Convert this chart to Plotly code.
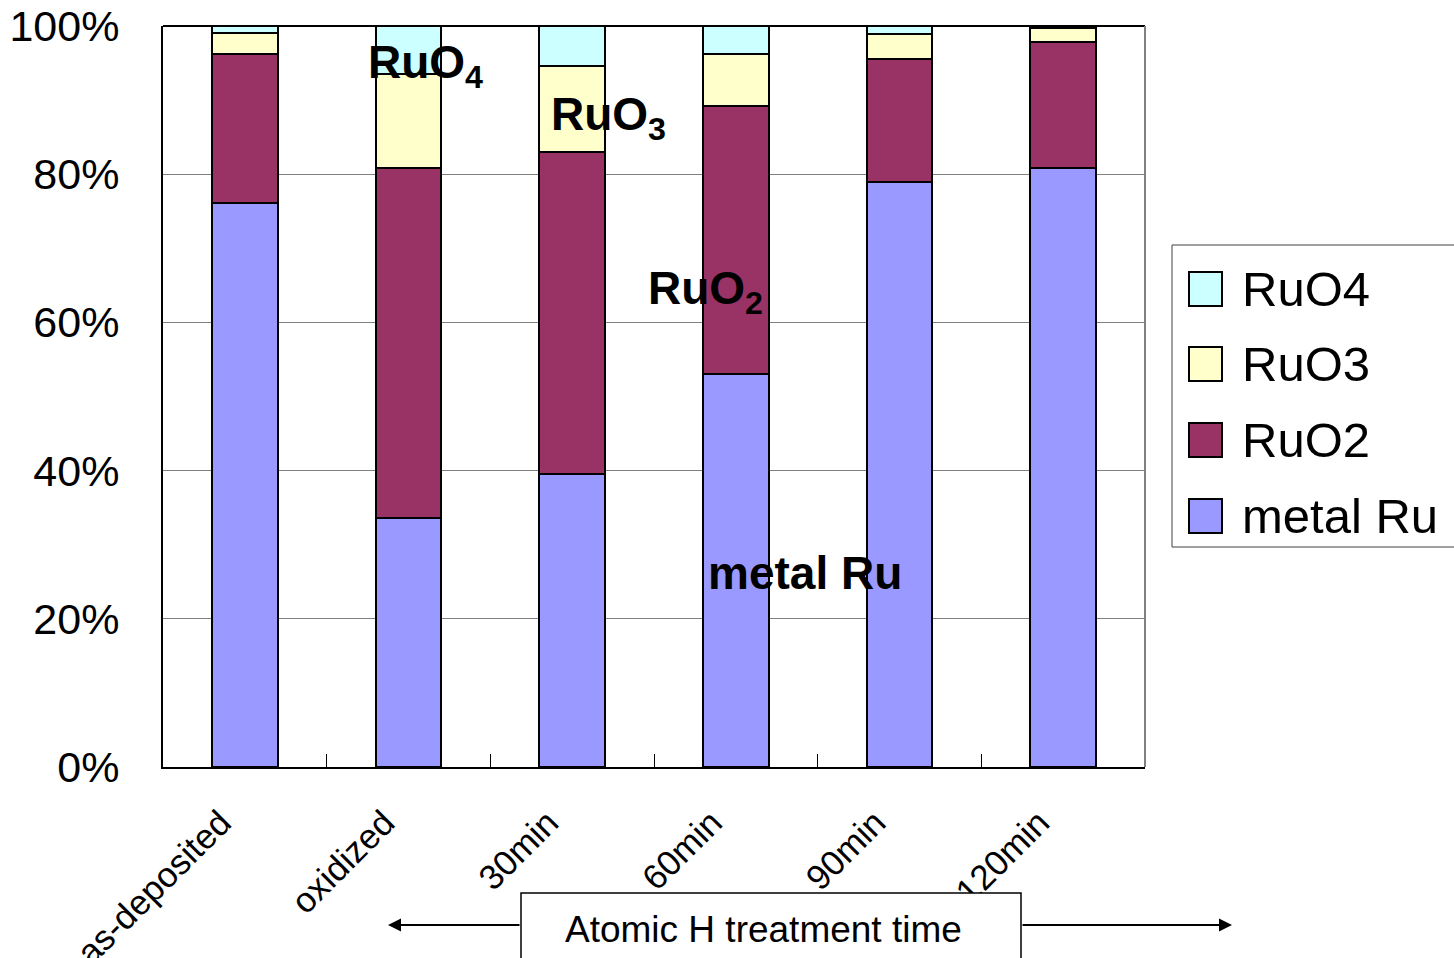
import plotly.graph_objects as go

# Ru chemical state fractions (%) for each sample
samples = ["as-deposited", "oxidized", "30min", "60min", "90min", "120min"]
metal_ru = [76.1, 33.6, 39.6, 53.0, 79.0, 80.9]
ruo2 = [20.1, 47.3, 43.4, 36.2, 16.6, 16.9]
ruo3 = [2.9, 12.6, 11.6, 7.0, 3.3, 1.9]
ruo4 = [0.9, 6.5, 5.4, 3.8, 1.1, 0.3]
y_ticks = [0, 20, 40, 60, 80, 100]
y_tick_labels = ["0%", "20%", "40%", "60%", "80%", "100%"]

series_names = ["metal Ru", "RuO2", "RuO3", "RuO4"]
series_values = [metal_ru, ruo2, ruo3, ruo4]
series_colors = ["#9999FF", "#993366", "#FFFFCC", "#CCFFFF"]

W, H = 1454, 958
L, T, R, B = 163, 26, 1145, 767  # plot area in pixels


def px(x):
    return (x - L) / (R - L)


def py(y):
    return (B - y) / (B - T)


fig = go.Figure()
for name, vals, col in zip(series_names, series_values, series_colors):
    fig.add_trace(go.Bar(
        x=samples, y=vals, name=name,
        marker=dict(color=col, line=dict(color="black", width=2)),
        showlegend=False,
    ))

font_main = "Liberation Sans, Arial, sans-serif"

fig.update_layout(
    width=W, height=H,
    margin=dict(l=L, r=W - R, t=T, b=H - B),
    barmode="stack",
    bargap=0.6,
    plot_bgcolor="white",
    paper_bgcolor="white",
    font=dict(family=font_main, color="black"),
)

fig.update_yaxes(
    range=[0, 100],
    tickmode="array",
    tickvals=y_ticks,
    ticktext=y_tick_labels,
    tickfont=dict(size=43),
    showgrid=True, gridcolor="#808080", gridwidth=1,
    showline=True, linecolor="black", linewidth=2,
    ticks="", ticklabelstandoff=33,
    zeroline=False,
    automargin=False,
)
fig.update_xaxes(
    tickangle=-45,
    tickfont=dict(size=35),
    showline=True, linecolor="black", linewidth=2,
    ticks="inside", ticklen=13, tickcolor="black", tickwidth=1,
    tickson="boundaries",
    ticklabelstandoff=19,
    ticklabelshift=-24,
    showgrid=False,
    automargin=False,
)

shapes = []
# plot area frame: top black, right gray
shapes.append(dict(type="line", xref="paper", yref="paper", x0=0, x1=1, y0=1, y1=1,
                   line=dict(color="black", width=2)))
shapes.append(dict(type="line", xref="paper", yref="paper", x0=1, x1=1, y0=0, y1=1,
                   line=dict(color="#808080", width=2)))

annotations = []

# in-plot species labels
label_specs = [
    ("RuO<sub>4</sub>", 366, 66),
    ("RuO<sub>3</sub>", 549, 117),
    ("RuO<sub>2</sub>", 646, 292),
    ("metal Ru", 706, 573),
]
for text, lx, ly in label_specs:
    annotations.append(dict(
        text="<b>%s</b>" % text, xref="paper", yref="paper",
        x=px(lx), y=py(ly), xanchor="left", yanchor="middle",
        showarrow=False, font=dict(size=46, color="black"),
    ))

# legend box
leg_left, leg_top, leg_bottom = 1172, 245, 547
shapes.append(dict(type="rect", xref="paper", yref="paper",
                   x0=px(leg_left), x1=px(1480), y0=py(leg_bottom), y1=py(leg_top),
                   line=dict(color="#404040", width=1), fillcolor="white"))
legend_rows = [("RuO4", "#CCFFFF", 289), ("RuO3", "#FFFFCC", 364),
               ("RuO2", "#993366", 440), ("metal Ru", "#9999FF", 516)]
for name, col, cy in legend_rows:
    shapes.append(dict(type="rect", xref="paper", yref="paper",
                       x0=px(1189), x1=px(1222), y0=py(cy + 17), y1=py(cy - 17),
                       line=dict(color="black", width=2), fillcolor=col))
    annotations.append(dict(
        text=name, xref="paper", yref="paper", x=px(1240), y=py(cy),
        xanchor="left", yanchor="middle", showarrow=False,
        font=dict(size=49, color="black"),
    ))

# axis caption box with arrows
shapes.append(dict(type="rect", xref="paper", yref="paper",
                   x0=px(521), x1=px(1021), y0=py(975), y1=py(893),
                   line=dict(color="black", width=1.5), fillcolor="white"))
annotations.append(dict(
    text="Atomic H treatment time", xref="paper", yref="paper",
    x=px(763), y=py(929), xanchor="center", yanchor="middle",
    showarrow=False, font=dict(size=37, color="black"),
))
annotations.append(dict(
    text="", xref="paper", yref="paper", x=px(388), y=py(925),
    ax=521 - 388, ay=0, showarrow=True, arrowhead=2, arrowsize=1.3,
    arrowwidth=2, arrowcolor="black",
))
annotations.append(dict(
    text="", xref="paper", yref="paper", x=px(1232), y=py(925),
    ax=1021 - 1232, ay=0, showarrow=True, arrowhead=2, arrowsize=1.3,
    arrowwidth=2, arrowcolor="black",
))

fig.update_layout(shapes=shapes, annotations=annotations)

fig.write_html("out.html")
